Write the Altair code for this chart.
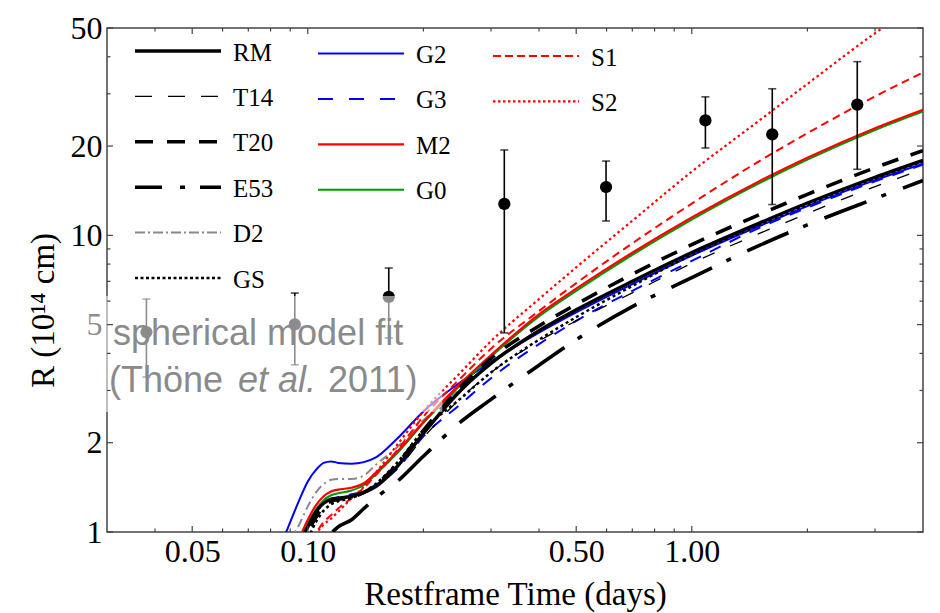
import altair as alt
import pandas as pd

# ---------------- data ----------------
T = [0.085, 0.09, 0.095, 0.1, 0.105, 0.11, 0.115, 0.12, 0.13, 0.14, 0.15, 0.17,
     0.2, 0.25, 0.3, 0.4, 0.5, 0.7, 1.0, 1.5, 2.0, 3.0, 4.0]

RM  = [0.75, 0.82, 0.92, 1.04, 1.17, 1.25, 1.29, 1.30, 1.32, 1.36, 1.42, 1.65, 2.15, 3.0, 3.7, 4.77, 5.61, 7.0, 8.75, 11.0, 12.85, 15.7, 17.9]
T14 = [0.72, 0.80, 0.90, 1.00, 1.12, 1.21, 1.26, 1.28, 1.31, 1.35, 1.42, 1.62, 2.08, 2.82, 3.45, 4.4, 5.15, 6.4, 8.05, 10.15, 11.85, 14.6, 16.7]
T20 = [0.70, 0.78, 0.88, 1.00, 1.12, 1.22, 1.27, 1.29, 1.31, 1.36, 1.44, 1.68, 2.2, 3.08, 3.85, 4.95, 5.85, 7.4, 9.3, 11.75, 13.75, 16.9, 19.3]
E53 = [0.60, 0.66, 0.72, 0.80, 0.87, 0.93, 0.99, 1.04, 1.10, 1.20, 1.30, 1.47, 1.8, 2.35, 2.8, 3.65, 4.45, 5.75, 7.2, 9.25, 10.85, 13.3, 15.3]
D2  = [0.80, 0.93, 1.06, 1.22, 1.36, 1.45, 1.50, 1.51, 1.51, 1.55, 1.68, 1.92, 2.38, 3.05, 3.7, 4.75, 5.6, 7.0, 8.75, 11.0, 12.85, 15.7, 17.9]
GS  = [0.70, 0.76, 0.84, 0.95, 1.08, 1.18, 1.24, 1.27, 1.30, 1.36, 1.45, 1.70, 2.2, 2.82, 3.45, 4.45, 5.3, 6.75, 8.6, 10.85, 12.7, 15.55, 17.75]
G2  = [0.90, 1.08, 1.28, 1.48, 1.62, 1.71, 1.73, 1.71, 1.70, 1.72, 1.78, 2.05, 2.55, 3.2, 3.75, 4.7, 5.5, 6.85, 8.55, 10.75, 12.55, 15.35, 17.45]
G3  = [0.72, 0.83, 0.95, 1.07, 1.17, 1.24, 1.29, 1.31, 1.34, 1.37, 1.44, 1.62, 2.1, 2.7, 3.3, 4.3, 5.15, 6.5, 8.2, 10.6, 12.4, 15.2, 17.3]
M2  = [0.72, 0.82, 0.95, 1.10, 1.23, 1.32, 1.37, 1.39, 1.41, 1.46, 1.58, 1.85, 2.35, 3.17, 3.95, 5.42, 6.61, 8.74, 11.49, 15.23, 18.26, 22.96, 26.5]
G0  = [0.70, 0.80, 0.93, 1.07, 1.19, 1.28, 1.33, 1.35, 1.38, 1.44, 1.56, 1.83, 2.33, 3.13, 3.9, 5.33, 6.5, 8.6, 11.3, 15.0, 18.0, 22.65, 26.15]
S1  = [0.60, 0.68, 0.77, 0.88, 0.99, 1.08, 1.14, 1.20, 1.30, 1.41, 1.55, 1.87, 2.45, 3.3, 4.15, 5.56, 6.9, 9.4, 12.8, 17.8, 22.1, 29.4, 35.4]
S2  = [0.60, 0.68, 0.76, 0.87, 0.98, 1.06, 1.11, 1.17, 1.30, 1.42, 1.58, 1.95, 2.55, 3.45, 4.4, 6.1, 7.8, 11.2, 16.4, 24.4, 32.4, 48.0, 62.0]

NAMES = ["RM", "T14", "T20", "E53", "D2", "GS", "G2", "G3", "M2", "G0", "S1", "S2"]
VALUES = [RM, T14, T20, E53, D2, GS, G2, G3, M2, G0, S1, S2]

# observed radii (Thone et al. 2011)
PT_T = [0.038, 0.0925, 0.1625, 0.3249, 0.598, 1.085, 1.62, 2.697]
PT_R = [4.72, 5.01, 6.2, 12.76, 14.55, 24.4, 21.9, 27.6]
PT_LO = [3.33, 3.66, 4.51, 4.69, 11.18, 19.7, 12.7, 16.7]
PT_HI = [6.10, 6.39, 7.76, 19.4, 17.8, 29.3, 31.2, 38.5]

X_LABELS = [0.05, 0.1, 0.5, 1.0]
X_MINOR = [0.04, 0.06, 0.07, 0.08, 0.09, 0.2, 0.3, 0.4, 0.6, 0.7, 0.8, 0.9, 2.0, 3.0]
Y_LABELS = [1, 2, 5, 10, 20, 50]
Y_MINOR = [3, 4, 6, 7, 8, 9, 30, 40]

# annotation box (data units) and text
BOX_T = [0.025, 0.224]
BOX_R = [2.54, 6.25]

# ---------------- styles ----------------
W, H = 816, 504
STYLE = {
    "RM":  dict(color="#000000", width=3.4, dash=None, ldash=None),
    "T14": dict(color="#000000", width=1.3, dash=[13, 17], ldash=[17, 16]),
    "T20": dict(color="#000000", width=3.6, dash=[17, 13], ldash=[18, 14]),
    "E53": dict(color="#000000", width=3.6, dash=[45, 16, 5, 18], ldash=[27, 18, 5, 15]),
    "D2":  dict(color="#888888", width=2.0, dash=[9, 4, 2, 4], ldash=[10, 3, 2, 3]),
    "GS":  dict(color="#000000", width=2.5, dash=[3, 3], ldash=[3, 2.5]),
    "G2":  dict(color="#0000ff", width=2.0, dash=None, ldash=None),
    "G3":  dict(color="#0000ff", width=2.0, dash=[12, 10], ldash=[15, 16]),
    "M2":  dict(color="#ff0000", width=2.2, dash=None, ldash=None),
    "G0":  dict(color="#009900", width=2.0, dash=None, ldash=None),
    "S1":  dict(color="#ff0000", width=2.0, dash=[8, 5], ldash=[8, 4]),
    "S2":  dict(color="#ff0000", width=2.2, dash=[2.5, 3], ldash=[2.5, 2.5]),
}
DRAW_ORDER = ["G2", "G3", "D2", "G0", "M2", "S1", "S2", "E53", "T14", "T20", "GS", "RM"]

SERIF = "Liberation Serif"
SANS = "Liberation Sans"

xs = alt.Scale(type="log", domain=[0.03, 4.0], nice=False)
ys = alt.Scale(type="log", domain=[1, 50], nice=False)

xaxis = alt.Axis(values=X_LABELS, format=".2f", ticks=False, domain=False, grid=False,
                 labelFont=SERIF, labelFontSize=32, labelColor="#000", labelPadding=4,
                 labelFlush=False, labelOverlap=False,
                 title="Restframe Time (days)", titleFont=SERIF, titleFontSize=33,
                 titleFontWeight="normal", titleColor="#000", titleBaseline="alphabetic",
                 titleY=72, titleX=W / 2, titleAnchor="middle", titleAlign="center")
yaxis = alt.Axis(values=Y_LABELS, format="d", ticks=False, domain=False, grid=False,
                 labelFont=SERIF, labelFontSize=32, labelColor="#000", labelPadding=5,
                 labelFlush=False, labelOverlap=False,
                 title="R (10\u00b9\u2074 cm)", titleFont=SERIF, titleFontSize=33,
                 titleFontWeight="normal", titleColor="#000", titleAngle=270,
                 titleBaseline="alphabetic", titleAlign="center", titleX=-54, titleY=282)


def X(field):
    return alt.X(f"{field}:Q", scale=xs, axis=xaxis)


def Y(field):
    return alt.Y(f"{field}:Q", scale=ys, axis=yaxis)


layers = []

# model curves
for name in DRAW_ORDER:
    vals = VALUES[NAMES.index(name)]
    d = pd.DataFrame({"t": T, "R": vals})
    st = STYLE[name]
    kw = dict(color=st["color"], strokeWidth=st["width"], clip=True, interpolate="monotone")
    if st["dash"]:
        kw["strokeDash"] = st["dash"]
    layers.append(alt.Chart(d).mark_line(**kw).encode(x=X("t"), y=Y("R")))

# data points with error bars
pts = pd.DataFrame({"t": PT_T, "R": PT_R, "lo": PT_LO, "hi": PT_HI})
layers.append(alt.Chart(pts).mark_rule(color="#000", strokeWidth=1.6).encode(
    x=X("t"), y=Y("lo"), y2="hi"))
layers.append(alt.Chart(pts).mark_tick(color="#000", orient="horizontal", size=8, thickness=1.6).encode(
    x=X("t"), y=Y("lo")))
layers.append(alt.Chart(pts).mark_tick(color="#000", orient="horizontal", size=8, thickness=1.6).encode(
    x=X("t"), y=Y("hi")))
layers.append(alt.Chart(pts).mark_circle(color="#000", opacity=1, size=150).encode(
    x=X("t"), y=Y("R")))

# translucent box behind annotation
box = pd.DataFrame({"t0": [BOX_T[0]], "t1": [BOX_T[1]], "r0": [BOX_R[0]], "r1": [BOX_R[1]]})
layers.append(alt.Chart(box).mark_rect(fill="#ffffff", opacity=0.55).encode(
    x=X("t0"), x2="t1", y=Y("r0"), y2="r1"))

# annotation text
ANN = [("spherical model fit", 4.27, 6, "normal"),
       ("(Th\u00f6ne", 2.964, 2, "normal"),
       ("et al.", 2.964, 131, "italic"),
       ("2011)", 2.964, 221, "normal")]
for txt, r, dx, style in ANN:
    d = pd.DataFrame({"t": [0.03], "R": [r], "s": [txt]})
    layers.append(alt.Chart(d).mark_text(font=SANS, fontSize=36, color="#8a8a8a", align="left",
                                         baseline="alphabetic", dx=dx, fontStyle=style).encode(
        x=X("t"), y=Y("R"), text="s:N"))

# frame ticks (inward)
one = alt.Data(values=[{}])
for vals, L in [(X_LABELS, 6), (X_MINOR, 3.5)]:
    d = pd.DataFrame({"v": vals})
    layers.append(alt.Chart(d).mark_rule(color="#444", strokeWidth=1.2).encode(
        x=X("v"), y=alt.value(H), y2=alt.value(H - L)))
    layers.append(alt.Chart(d).mark_rule(color="#444", strokeWidth=1.2).encode(
        x=X("v"), y=alt.value(0), y2=alt.value(L)))
for vals, L in [(Y_LABELS, 6), (Y_MINOR, 3.5)]:
    d = pd.DataFrame({"v": vals})
    layers.append(alt.Chart(d).mark_rule(color="#444", strokeWidth=1.2).encode(
        y=Y("v"), x=alt.value(0), x2=alt.value(L)))
    layers.append(alt.Chart(d).mark_rule(color="#444", strokeWidth=1.2).encode(
        y=Y("v"), x=alt.value(W), x2=alt.value(W - L)))

# legend (three columns)
LEG_COLS = [["RM", "T14", "T20", "E53", "D2", "GS"], ["G2", "G3", "M2", "G0"], ["S1", "S2"]]
LEG_X = [28, 211, 386]
LEG_Y0 = [23, 25.5, 28]
LEG_DY = 45.4
LEG_LEN = 86
for ci, col in enumerate(LEG_COLS):
    for ri, name in enumerate(col):
        st = STYLE[name]
        yy = LEG_Y0[ci] + ri * LEG_DY
        kw = dict(color=st["color"], strokeWidth=st["width"])
        if st["ldash"]:
            kw["strokeDash"] = st["ldash"]
        layers.append(alt.Chart(one).mark_rule(**kw).encode(
            x=alt.value(LEG_X[ci]), x2=alt.value(LEG_X[ci] + LEG_LEN), y=alt.value(yy)))
        layers.append(alt.Chart(one).mark_text(font=SERIF, fontSize=25, color="#000", align="left",
                                               baseline="middle").encode(
            x=alt.value(LEG_X[ci] + LEG_LEN + 12), y=alt.value(yy + 1.5), text=alt.value(name)))

chart = alt.layer(*layers).properties(
    width=W, height=H,
    autosize=alt.AutoSizeParams(type="none"),
    padding={"left": 107, "top": 28, "right": 17, "bottom": 81},
    background="white",
).configure_view(stroke="#444", strokeWidth=1.5)

chart.save("out.html", embed_options={"renderer": "svg", "actions": False})
